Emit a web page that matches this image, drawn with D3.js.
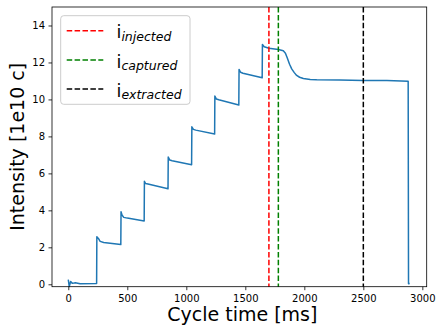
<!DOCTYPE html>
<html>
<head>
<meta charset="utf-8">
<script src="https://cdn.jsdelivr.net/npm/d3@7"></script>
<style>
  body { margin: 0; background: #fff; }
  text { font-family: "DejaVu Sans", sans-serif; fill: #000; }
</style>
</head>
<body>
<div class="chart"></div>
<script>
// cycle time (ms) and beam intensity (1e10 charges)
var cycleTime = [
  0, 8, 20, 35, 60, 100, 240,
  242, 255, 270, 300, 445,
  447, 455, 470, 500, 643,
  645, 655, 675, 845,
  847, 860, 880, 1045,
  1047, 1060, 1080, 1240,
  1242, 1255, 1275, 1445,
  1447, 1460, 1480, 1643,
  1645, 1660, 1700, 1780, 1822, 1840, 1855, 1875, 1893, 1915, 1935, 1960, 1992,
  2050, 2105, 2300, 2500, 2700, 2880, 2883, 2893
];
var intensity = [
  0.25, -0.12, 0.15, 0.05, 0.08, 0.03, 0.04,
  2.57, 2.48, 2.32, 2.26, 2.15,
  3.92, 3.75, 3.62, 3.58, 3.43,
  5.57, 5.45, 5.42, 5.17,
  6.88, 6.72, 6.68, 6.47,
  8.52, 8.38, 8.34, 8.13,
  10.18, 10.02, 9.98, 9.7,
  11.62, 11.47, 11.42, 11.17,
  12.97, 12.85, 12.77, 12.7, 12.63, 12.5, 12.25, 11.9, 11.65, 11.45, 11.3, 11.2, 11.13,
  11.08, 11.06, 11.05, 11.03, 11.02, 10.99, 0.03, 0.04
];

// marker lines
var markerNames = ["injected", "captured", "extracted"];
var markerTimes = [1700, 1780, 2500];
var markerColors = ["red", "green", "black"];

var xTicks = [0, 500, 1000, 1500, 2000, 2500, 3000];
var yTicks = [0, 2, 4, 6, 8, 10, 12, 14];

var svgWidth = 436;
var svgHeight = 325;
var margin = { top: 7, right: 9.3, bottom: 38.3, left: 52 };
var width = svgWidth - margin.left - margin.right;
var height = svgHeight - margin.top - margin.bottom;

var svg = d3.select(".chart")
  .append("svg")
  .attr("width", svgWidth)
  .attr("height", svgHeight);

var chartGroup = svg.append("g")
  .attr("transform", `translate(${margin.left}, ${margin.top})`);

var x = d3.scaleLinear().domain([-138, 3037]).range([0, width]);
var y = d3.scaleLinear().domain([-0.13, 15]).range([height, 0]);

var points = cycleTime.map((t, i) => [t, intensity[i]]);

// intensity trace
chartGroup.append("path")
  .datum(points)
  .attr("fill", "none")
  .attr("stroke", "#1f77b4")
  .attr("stroke-width", 1.5)
  .attr("stroke-linejoin", "round")
  .attr("d", d3.line().x(d => x(d[0])).y(d => y(d[1])));

// vertical dashed markers
chartGroup.selectAll(".marker")
  .data(markerTimes)
  .enter()
  .append("line")
  .attr("class", "marker")
  .attr("x1", d => x(d))
  .attr("x2", d => x(d))
  .attr("y1", 0)
  .attr("y2", height)
  .attr("stroke", (d, i) => markerColors[i])
  .attr("stroke-width", 1.5)
  .attr("stroke-dasharray", "5.5,2.4");

// axes
var xAxis = chartGroup.append("g")
  .attr("transform", `translate(0, ${height})`)
  .call(d3.axisBottom(x).tickValues(xTicks).tickFormat(d3.format("d"))
    .tickSizeInner(3.5).tickSizeOuter(0).tickPadding(4.5));
var yAxis = chartGroup.append("g")
  .call(d3.axisLeft(y).tickValues(yTicks).tickFormat(d3.format("d"))
    .tickSizeInner(3.5).tickSizeOuter(0).tickPadding(3.5));

[xAxis, yAxis].forEach(function(ax) {
  ax.selectAll("text").style("font-size", "10px").attr("fill", "#000");
  ax.selectAll(".tick line").attr("stroke", "#000").attr("stroke-width", 0.8);
  ax.select(".domain").remove();
});

// frame
chartGroup.append("rect")
  .attr("width", width)
  .attr("height", height)
  .attr("fill", "none")
  .attr("stroke", "#000")
  .attr("stroke-width", 0.8);

// axis labels
svg.append("text")
  .attr("x", margin.left + width / 2 + 3)
  .attr("y", 321)
  .attr("text-anchor", "middle")
  .style("font-size", "19px")
  .text("Cycle time [ms]");

svg.append("text")
  .attr("transform", `translate(23.5, ${margin.top + height / 2}) rotate(-90)`)
  .attr("text-anchor", "middle")
  .style("font-size", "19px")
  .text("Intensity [1e10 c]");

// legend
var legend = svg.append("g");
legend.append("rect")
  .attr("x", 60.7)
  .attr("y", 15.7)
  .attr("width", 129.3)
  .attr("height", 88.6)
  .attr("rx", 3)
  .attr("fill", "#fff")
  .attr("fill-opacity", 0.8)
  .attr("stroke", "#ccc")
  .attr("stroke-width", 1);

var rowY = [30.7, 60, 89];
markerNames.forEach(function(name, i) {
  legend.append("line")
    .attr("x1", 66.7)
    .attr("x2", 103.3)
    .attr("y1", rowY[i])
    .attr("y2", rowY[i])
    .attr("stroke", markerColors[i])
    .attr("stroke-width", 1.5)
    .attr("stroke-dasharray", "5.5,2.4");
  var t = legend.append("text")
    .attr("x", 116.5)
    .attr("y", rowY[i] + 7.6)
    .style("font-size", "17.5px");
  t.append("tspan").text("i");
  t.append("tspan")
    .attr("dy", 2.2)
    .style("font-size", "12.5px")
    .style("font-style", "italic")
    .text(name);
});
</script>
</body>
</html>
